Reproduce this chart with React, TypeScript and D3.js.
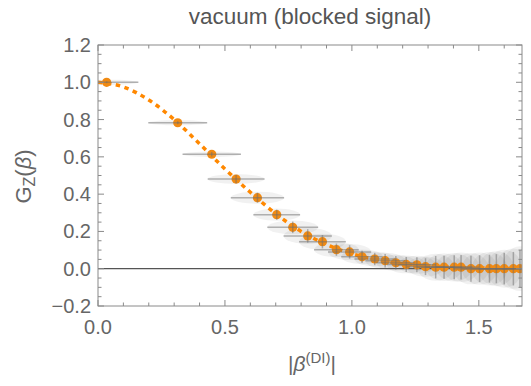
import React, { useEffect, useRef } from 'react';
import * as d3 from 'd3';

// measured points: |beta| and G_z(beta) with errors
const betaVals = [0.034, 0.314, 0.448, 0.544, 0.628, 0.704, 0.767, 0.826, 0.884, 0.939, 0.991, 1.040, 1.090, 1.131, 1.173, 1.214, 1.256, 1.290, 1.330, 1.363, 1.403, 1.430, 1.469, 1.503, 1.542, 1.569, 1.600, 1.636, 1.662];
const gVals = [1.0, 0.783, 0.614, 0.481, 0.381, 0.290, 0.222, 0.176, 0.145, 0.102, 0.090, 0.064, 0.052, 0.043, 0.032, 0.023, 0.021, 0.011, 0.008, 0.008, 0.008, 0.008, 0.0, 0.0, 0.0, 0.0, 0.0, 0.0, 0.0];
const betaErr = [0.125, 0.116, 0.115, 0.112, 0.105, 0.092, 0.1, 0.095, 0.092, 0.088, 0.085, 0.082, 0.08, 0.078, 0.077, 0.076, 0.075, 0.074, 0.073, 0.072, 0.072, 0.071, 0.07, 0.07, 0.07, 0.07, 0.07, 0.07, 0.07];
const gErr = [0.005, 0.008, 0.012, 0.022, 0.027, 0.027, 0.031, 0.036, 0.036, 0.033, 0.036, 0.033, 0.033, 0.036, 0.036, 0.04, 0.04, 0.045, 0.06, 0.062, 0.064, 0.066, 0.07, 0.072, 0.075, 0.078, 0.085, 0.09, 0.1];

// theory curve (dashed)
const curveBeta = [0, 0.1, 0.2, 0.3, 0.4, 0.5, 0.6, 0.7, 0.8, 0.9, 1.0, 1.1, 1.2, 1.3, 1.4, 1.5, 1.6, 1.67];
const curveG = [1.0, 0.975, 0.905, 0.8, 0.67, 0.535, 0.41, 0.295, 0.2, 0.13, 0.08, 0.048, 0.027, 0.015, 0.008, 0.004, 0.002, 0.001];

const xTickVals = [0, 0.5, 1.0, 1.5];
const yTickVals = [-0.2, 0, 0.2, 0.4, 0.6, 0.8, 1.0, 1.2];

const App = () => {
  const svgRef = useRef<SVGSVGElement>(null);

  useEffect(() => {
    const svg = d3.select(svgRef.current);
    svg.selectAll('*').remove();

    const W = 531, H = 386;
    const margin = { top: 45, right: 9, bottom: 80, left: 98 };
    const width = W - margin.left - margin.right;
    const height = H - margin.top - margin.bottom;

    const x = d3.scaleLinear().domain([0, 1.67]).range([0, width]);
    const y = d3.scaleLinear().domain([-0.2, 1.2]).range([height, 0]);

    const frameColor = '#8a8a8a';
    const textColor = '#666';
    const font = "'Liberation Sans', Arial, sans-serif";

    svg.append('defs').append('clipPath').attr('id', 'plotClip')
      .append('rect').attr('width', width).attr('height', height);

    const g = svg.append('g').attr('transform', `translate(${margin.left},${margin.top})`);
    const plot = g.append('g').attr('clip-path', 'url(#plotClip)');

    const pts = betaVals.map((b, i) => ({ b, v: gVals[i], eb: betaErr[i], ev: gErr[i] }));

    // error ellipses
    plot.selectAll('.ell').data(pts).enter().append('ellipse')
      .attr('cx', d => x(d.b))
      .attr('cy', d => y(d.v))
      .attr('rx', d => x(d.eb) - x(0))
      .attr('ry', d => y(0) - y(Math.max(d.ev * 1.2, 0.014)))
      .attr('fill', 'rgba(0,0,0,0.055)');

    // zero axis
    plot.append('line')
      .attr('x1', 0).attr('x2', width)
      .attr('y1', y(0)).attr('y2', y(0))
      .attr('stroke', '#555').attr('stroke-width', 1.2);

    // dashed curve
    const line = d3.line<number>()
      .x((d, i) => x(curveBeta[i]))
      .y(d => y(d))
      .curve(d3.curveMonotoneX);
    plot.append('path')
      .datum(curveG)
      .attr('d', line)
      .attr('fill', 'none')
      .attr('stroke', '#ff8800')
      .attr('stroke-width', 3.5)
      .attr('stroke-dasharray', '4.5,4.5');

    // points
    plot.selectAll('.pt').data(pts).enter().append('circle')
      .attr('cx', d => x(d.b))
      .attr('cy', d => y(d.v))
      .attr('r', 4.6)
      .attr('fill', '#f18a12');

    // error bars
    const bars = plot.selectAll('.eb').data(pts).enter().append('g');
    bars.append('line')
      .attr('x1', d => x(d.b - d.eb)).attr('x2', d => x(d.b + d.eb))
      .attr('y1', d => y(d.v)).attr('y2', d => y(d.v))
      .attr('stroke', 'rgba(110,110,110,0.5)').attr('stroke-width', 1.5);
    bars.append('line')
      .attr('x1', d => x(d.b)).attr('x2', d => x(d.b))
      .attr('y1', d => y(d.v - d.ev)).attr('y2', d => y(d.v + d.ev))
      .attr('stroke', 'rgba(110,110,110,0.5)').attr('stroke-width', 1.5);

    // frame
    g.append('rect')
      .attr('width', width).attr('height', height)
      .attr('fill', 'none').attr('stroke', frameColor).attr('stroke-width', 1);

    // ticks on all sides
    const xMinor = d3.range(0, 1.67, 0.1);
    const yMinor = d3.range(-0.2, 1.2001, 0.05);
    const isMajor = (v: number, step: number) => Math.abs(v / step - Math.round(v / step)) < 1e-6;

    xMinor.forEach(v => {
      const len = isMajor(v, 0.5) ? 6 : 3.5;
      g.append('line').attr('x1', x(v)).attr('x2', x(v)).attr('y1', height).attr('y2', height - len)
        .attr('stroke', frameColor);
      g.append('line').attr('x1', x(v)).attr('x2', x(v)).attr('y1', 0).attr('y2', len)
        .attr('stroke', frameColor);
    });
    yMinor.forEach(v => {
      const len = isMajor(v, 0.2) ? 6 : 3.5;
      g.append('line').attr('y1', y(v)).attr('y2', y(v)).attr('x1', 0).attr('x2', len)
        .attr('stroke', frameColor);
      g.append('line').attr('y1', y(v)).attr('y2', y(v)).attr('x1', width).attr('x2', width - len)
        .attr('stroke', frameColor);
    });

    const fmt = d3.format('.1f');
    g.selectAll('.xl').data(xTickVals).enter().append('text')
      .attr('x', d => x(d)).attr('y', height + 28)
      .attr('text-anchor', 'middle')
      .style('font-family', font).style('font-size', '20px').style('fill', textColor)
      .text(d => fmt(d));
    g.selectAll('.yl').data(yTickVals).enter().append('text')
      .attr('x', -7).attr('y', d => y(d) + 7)
      .attr('text-anchor', 'end')
      .style('font-family', font).style('font-size', '20px').style('fill', textColor)
      .text(d => fmt(d));

    // title
    svg.append('text')
      .attr('x', margin.left + width / 2).attr('y', 24)
      .attr('text-anchor', 'middle')
      .style('font-family', font).style('font-size', '22.5px').style('fill', '#555')
      .text('vacuum (blocked signal)');

    // x label
    const xl = svg.append('text')
      .attr('x', margin.left + width / 2 + 2).attr('y', 371)
      .attr('text-anchor', 'middle')
      .style('font-family', font).style('font-size', '21px').style('fill', textColor);
    xl.append('tspan').text('|');
    xl.append('tspan').style('font-style', 'italic').text('β');
    xl.append('tspan').attr('dy', -8).style('font-size', '15px').text('(DI)');
    xl.append('tspan').attr('dy', 8).text('|');

    // y label
    const yl = svg.append('text')
      .attr('transform', `translate(31,${margin.top + y(0.5) + 1}) rotate(-90)`)
      .attr('text-anchor', 'middle')
      .style('font-family', font).style('font-size', '22px').style('fill', textColor);
    yl.append('tspan').text('G');
    yl.append('tspan').attr('dy', 4).style('font-size', '16px').text('Z');
    yl.append('tspan').attr('dy', -4).text('(');
    yl.append('tspan').style('font-style', 'italic').text('β');
    yl.append('tspan').text(')');
  }, []);

  return (
    <svg
      ref={svgRef}
      width={531}
      height={386}
      style={{ position: 'absolute', left: 0, top: 0, background: '#fff' }}
    />
  );
};

export default App;
